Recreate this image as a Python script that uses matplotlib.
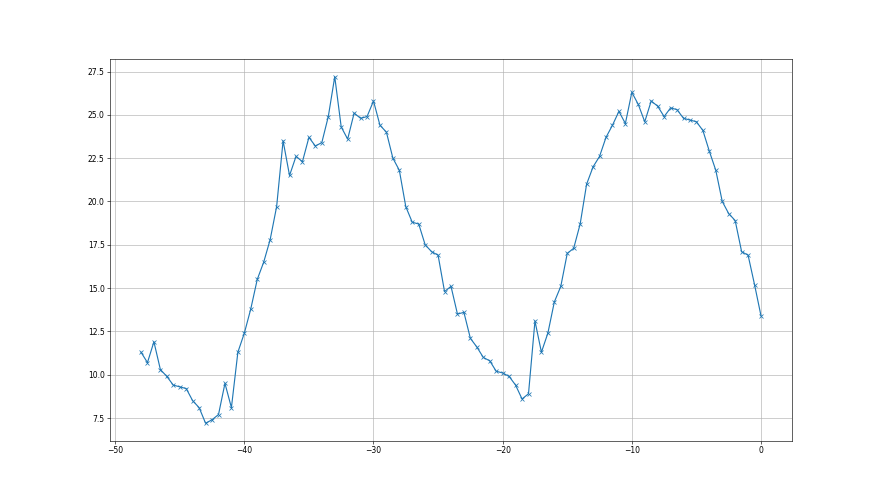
import numpy as np
import matplotlib
matplotlib.use("Agg")
import matplotlib.pyplot as plt

# x runs from -48 to 0 in half steps
x = np.arange(-48, 0.01, 0.5)

y = [
    11.3, 10.7, 11.9, 10.3, 9.9, 9.4, 9.3, 9.2, 8.5, 8.1,
    7.2, 7.4, 7.7, 9.5, 8.1, 11.3, 12.4, 13.8, 15.5, 16.5,
    17.8, 19.7, 23.5, 21.5, 22.6, 22.3, 23.7, 23.2, 23.4, 24.9,
    27.2, 24.3, 23.6, 25.1, 24.8, 24.9, 25.8, 24.4, 24.0, 22.5,
    21.8, 19.7, 18.8, 18.7, 17.5, 17.1, 16.9, 14.8, 15.1, 13.5,
    13.6, 12.1, 11.6, 11.0, 10.8, 10.2, 10.1, 9.9, 9.4, 8.6,
    8.9, 13.1, 11.3, 12.4, 14.2, 15.1, 17.0, 17.3, 18.7, 21.0,
    22.0, 22.6, 23.7, 24.4, 25.2, 24.5, 26.3, 25.6, 24.6, 25.8,
    25.5, 24.9, 25.4, 25.3, 24.8, 24.7, 24.6, 24.1, 22.9, 21.8,
    20.0, 19.3, 18.9, 17.1, 16.9, 15.2, 13.4,
]

fig, ax = plt.subplots(figsize=(16, 9), dpi=55)
ax.plot(x, y, marker="x", color="#1f77b4")
ax.grid(True)

plt.savefig("out.png", dpi=55)
